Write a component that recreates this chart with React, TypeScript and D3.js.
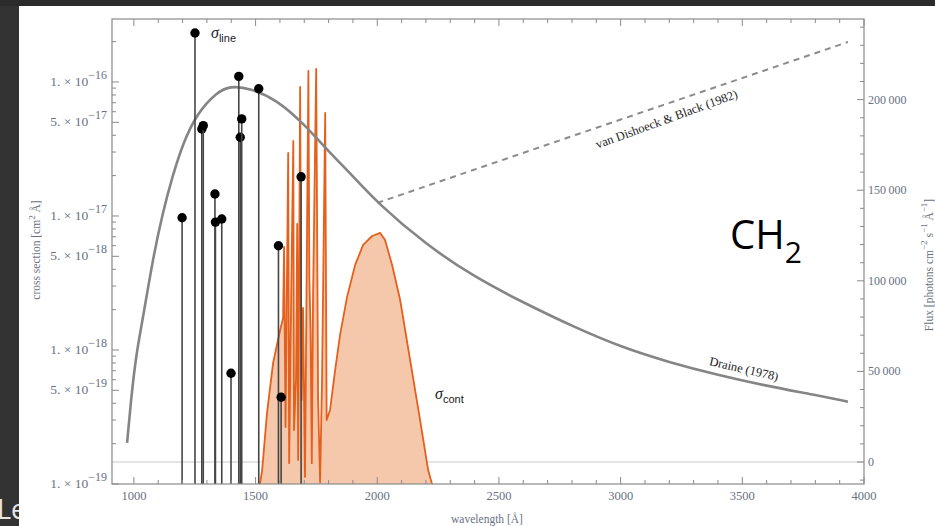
import * as d3 from "d3";

// canvas + plot frame
const W = 935;
const H = 526;
const frame = { left: 112, right: 864, top: 19, bottom: 484 };

// axis ticks
const xTickValues = [1000, 1500, 2000, 2500, 3000, 3500, 4000];
const leftTickLabels = [
  { v: 1e-19, m: "1", e: "19" },
  { v: 5e-19, m: "5", e: "19" },
  { v: 1e-18, m: "1", e: "18" },
  { v: 5e-18, m: "5", e: "18" },
  { v: 1e-17, m: "1", e: "17" },
  { v: 5e-17, m: "5", e: "17" },
  { v: 1e-16, m: "1", e: "16" },
];
const rightTickValues = [0, 50000, 100000, 150000, 200000];

// Draine (1978) interstellar field, photons cm^-2 s^-1 A^-1
const draineWavelength = [972, 990, 1010, 1038, 1077, 1118, 1157, 1202, 1260, 1342, 1395, 1477, 1588, 1695, 1806, 1888, 2000, 2200, 2400, 2600, 2800, 3000, 3200, 3400, 3600, 3800, 3934];
const draineFlux = [10500, 37000, 60000, 80000, 111500, 137400, 157000, 176000, 192600, 204200, 207500, 206400, 199800, 187100, 170500, 159500, 143000, 120000, 102000, 88000, 75000, 63500, 55000, 48000, 42000, 37000, 33300];

// van Dishoeck & Black (1982) extension beyond 2000 A
const vdbWavelength = [2000, 3000, 3934];
const vdbFlux = [143000, 189000, 231800];

// line cross sections (stems)
const lineWavelength = [1198, 1251, 1279, 1285, 1333, 1335, 1361, 1399, 1431, 1437, 1443, 1513, 1594, 1605, 1687];
const lineSigma = [9.7e-18, 2.32e-16, 4.46e-17, 4.72e-17, 1.46e-17, 9.0e-18, 9.5e-18, 6.7e-19, 1.1e-16, 3.87e-17, 5.3e-17, 8.9e-17, 6.0e-18, 4.44e-19, 1.96e-17];

// continuum cross section
const contWavelength = [1514, 1527, 1547, 1572, 1601, 1613, 1617, 1623, 1634, 1638, 1646, 1655, 1658, 1666, 1671, 1675, 1683, 1689, 1695, 1703, 1717, 1721, 1726, 1731, 1736, 1749, 1757, 1765, 1773, 1786, 1792, 1806, 1827, 1847, 1876, 1909, 1942, 1979, 2012, 2032, 2061, 2094, 2135, 2176, 2209, 2225, 2232];
const contSigma = [9.0e-20, 1.27e-19, 3.39e-19, 8.0e-19, 1.41e-18, 1.73e-18, 5.87e-18, 2.66e-19, 2.95e-17, 1.43e-19, 2.36e-18, 3.63e-17, 2.53e-19, 5.97e-19, 8.72e-18, 1.51e-19, 9.18e-17, 4.24e-19, 2.06e-18, 1.13e-19, 1.21e-16, 3.45e-18, 1.41e-18, 1.43e-19, 2.36e-18, 1.25e-16, 4.24e-19, 1.03e-19, 5.97e-19, 5.87e-17, 3.0e-19, 3.57e-19, 7.1e-19, 1.29e-18, 2.49e-18, 4.31e-18, 6.08e-18, 7.09e-18, 7.47e-18, 6.62e-18, 4.31e-18, 2.36e-18, 8.42e-19, 3.0e-19, 1.27e-19, 1.0e-19, 9.0e-20];

const x = d3.scaleLinear().domain([910, 4000]).range([frame.left, frame.right]);
const yL = d3.scaleLog().domain([1e-19, 2.95e-16]).range([frame.bottom, frame.top]);
const yR = d3.scaleLinear().domain([-12140, 244500]).range([frame.bottom, frame.top]);

const serif = "'Liberation Serif', 'DejaVu Serif', serif";
const tickColor = "#697082";
const frameColor = "#8a8a8a";

const fmtFlux = (v: number) => (v >= 1000 ? d3.format(",")(v).replace(",", "\u2009") : String(v));

export default function App() {
  const drainePts = draineWavelength.map((w, i) => [w, draineFlux[i]] as [number, number]);
  const vdbPts = vdbWavelength.map((w, i) => [w, vdbFlux[i]] as [number, number]);
  const contPts = contWavelength.map((w, i) => [w, contSigma[i]] as [number, number]);

  const fluxLine = d3.line<[number, number]>().x(d => x(d[0])).y(d => yR(d[1])).curve(d3.curveBasis);
  const vdbLine = d3.line<[number, number]>().x(d => x(d[0])).y(d => yR(d[1])).curve(d3.curveMonotoneX);
  const contLine = d3.line<[number, number]>().x(d => x(d[0])).y(d => yL(d[1]));
  const contArea = d3.area<[number, number]>().x(d => x(d[0])).y0(frame.bottom).y1(d => yL(d[1]));

  // minor ticks
  const xMinor = d3.range(1000, 4001, 100).filter(v => v % 500 !== 0);
  const leftMinor: number[] = [];
  [1e-19, 1e-18, 1e-17, 1e-16].forEach(dec => {
    [2, 3, 4, 6, 7, 8, 9].forEach(m => {
      const v = m * dec;
      if (v <= 2.95e-16) leftMinor.push(v);
    });
  });
  const rightMinor = d3.range(-10000, 244000, 10000).filter(v => v % 50000 !== 0);

  return (
    <div style={{ position: "absolute", left: 0, top: 0, width: W, height: H }}>
      <svg width={W} height={H} style={{ display: "block" }}>
        <defs>
          <clipPath id="plotClip">
            <rect x={frame.left} y={frame.top} width={frame.right - frame.left} height={frame.bottom - frame.top} />
          </clipPath>
        </defs>
        {/* slide background */}
        <rect x={0} y={0} width={W} height={H} fill="#333333" />
        <rect x={0} y={0} width={W} height={6} fill="#2b2b2b" />
        <text x={-3} y={519} fontFamily="'Open Sans', sans-serif" fontSize={27} fill="#e6e6e6">Le</text>
        <rect x={19} y={6} width={W - 19} height={H - 6} fill="#ffffff" />

        {/* zero flux line */}
        <line x1={frame.left} x2={frame.right} y1={yR(0)} y2={yR(0)} stroke="#c8c8c8" strokeWidth={1} />

        <g clipPath="url(#plotClip)">
          {/* continuum cross section */}
          <path d={contArea(contPts) ?? ""} fill="#f6c8ab" />
          <path d={contLine(contPts) ?? ""} fill="none" stroke="#e5601c" strokeWidth={1.8} strokeLinejoin="round" />

          {/* radiation fields */}
          <path d={vdbLine(vdbPts) ?? ""} fill="none" stroke="#8c8c8c" strokeWidth={2} strokeDasharray="6,5" />
          <path d={fluxLine(drainePts) ?? ""} fill="none" stroke="#858585" strokeWidth={2.6} />

          {/* line cross sections */}
          {lineWavelength.map((w, i) => (
            <g key={i}>
              <line x1={x(w)} x2={x(w)} y1={frame.bottom} y2={yL(lineSigma[i])} stroke="#454545" strokeWidth={1.6} />
              <circle cx={x(w)} cy={yL(lineSigma[i])} r={4.7} fill="#000" />
            </g>
          ))}
        </g>

        {/* frame */}
        <rect x={frame.left} y={frame.top} width={frame.right - frame.left} height={frame.bottom - frame.top} fill="none" stroke={frameColor} strokeWidth={1.2} />

        {/* x ticks bottom/top */}
        {xTickValues.map(v => (
          <g key={"xt" + v}>
            <line x1={x(v)} x2={x(v)} y1={frame.bottom} y2={frame.bottom - 7} stroke={frameColor} />
            <line x1={x(v)} x2={x(v)} y1={frame.top} y2={frame.top + 7} stroke={frameColor} />
            <text x={x(v)} y={frame.bottom + 16} textAnchor="middle" fontFamily={serif} fontSize={12.5} fill={tickColor}>{v}</text>
          </g>
        ))}
        {xMinor.map(v => (
          <g key={"xm" + v}>
            <line x1={x(v)} x2={x(v)} y1={frame.bottom} y2={frame.bottom - 4} stroke={frameColor} />
            <line x1={x(v)} x2={x(v)} y1={frame.top} y2={frame.top + 4} stroke={frameColor} />
          </g>
        ))}

        {/* left log ticks */}
        {leftTickLabels.map(t => (
          <g key={"yl" + t.v}>
            <line x1={frame.left} x2={frame.left + 7} y1={yL(t.v)} y2={yL(t.v)} stroke={frameColor} />
            <text x={107} y={yL(t.v) + 4} textAnchor="end" fontFamily={serif} fontSize={13.5} fill={tickColor}>
              {t.m + ". \u00d7 10"}
              <tspan dy={-7} fontSize={12}>{"\u2212" + t.e}</tspan>
            </text>
          </g>
        ))}
        {leftMinor.map(v => (
          <line key={"lm" + v} x1={frame.left} x2={frame.left + 4} y1={yL(v)} y2={yL(v)} stroke={frameColor} />
        ))}

        {/* right flux ticks */}
        {rightTickValues.map(v => (
          <g key={"yr" + v}>
            <line x1={frame.right} x2={frame.right - 7} y1={yR(v)} y2={yR(v)} stroke={frameColor} />
            <text x={868} y={yR(v) + 4} fontFamily={serif} fontSize={12} fill={tickColor}>{fmtFlux(v)}</text>
          </g>
        ))}
        {rightMinor.map(v => (
          <line key={"rm" + v} x1={frame.right} x2={frame.right - 4} y1={yR(v)} y2={yR(v)} stroke={frameColor} />
        ))}

        {/* axis titles */}
        <text x={487} y={523} textAnchor="middle" fontFamily={serif} fontSize={11.5} fill={tickColor}>wavelength [Å]</text>
        <text transform="translate(40,250) rotate(-90)" textAnchor="middle" fontFamily={serif} fontSize={11.5} fill={tickColor}>
          cross section  [cm<tspan dy={-5} fontSize={9}>2</tspan><tspan dy={5}> Å]</tspan>
        </text>
        <text transform="translate(933,265) rotate(-90)" textAnchor="middle" fontFamily={serif} fontSize={11.5} fill={tickColor}>
          Flux [photons cm<tspan dy={-6} fontSize={9}>−2</tspan><tspan dy={6}> s</tspan><tspan dy={-6} fontSize={9}>−1</tspan><tspan dy={6}> Å</tspan><tspan dy={-6} fontSize={9}>−1</tspan><tspan dy={6}>]</tspan>
        </text>

        {/* curve labels */}
        <text transform="translate(668,123) rotate(-20)" textAnchor="middle" fontFamily={serif} fontSize={12.5} fill="#222">van Dishoeck &amp; Black (1982)</text>
        <text transform="translate(743,373) rotate(13)" textAnchor="middle" fontFamily={serif} fontSize={12.5} fill="#222">Draine (1978)</text>

        <text x={211} y={38} fontFamily={serif} fontStyle="italic" fontSize={16} fill="#1a1a2e">σ<tspan dy={4} fontStyle="normal" fontFamily="'Liberation Sans', sans-serif" fontSize={11}>line</tspan></text>
        <text x={435} y={399} fontFamily={serif} fontStyle="italic" fontSize={16} fill="#1a1a1a">σ<tspan dy={4} fontStyle="normal" fontFamily="'Liberation Sans', sans-serif" fontSize={11}>cont</tspan></text>

        <text x={730} y={249} fontFamily="'Open Sans', sans-serif" fontSize={40} fill="#000">CH<tspan dy={14} fontSize={30}>2</tspan></text>
      </svg>
    </div>
  );
}
